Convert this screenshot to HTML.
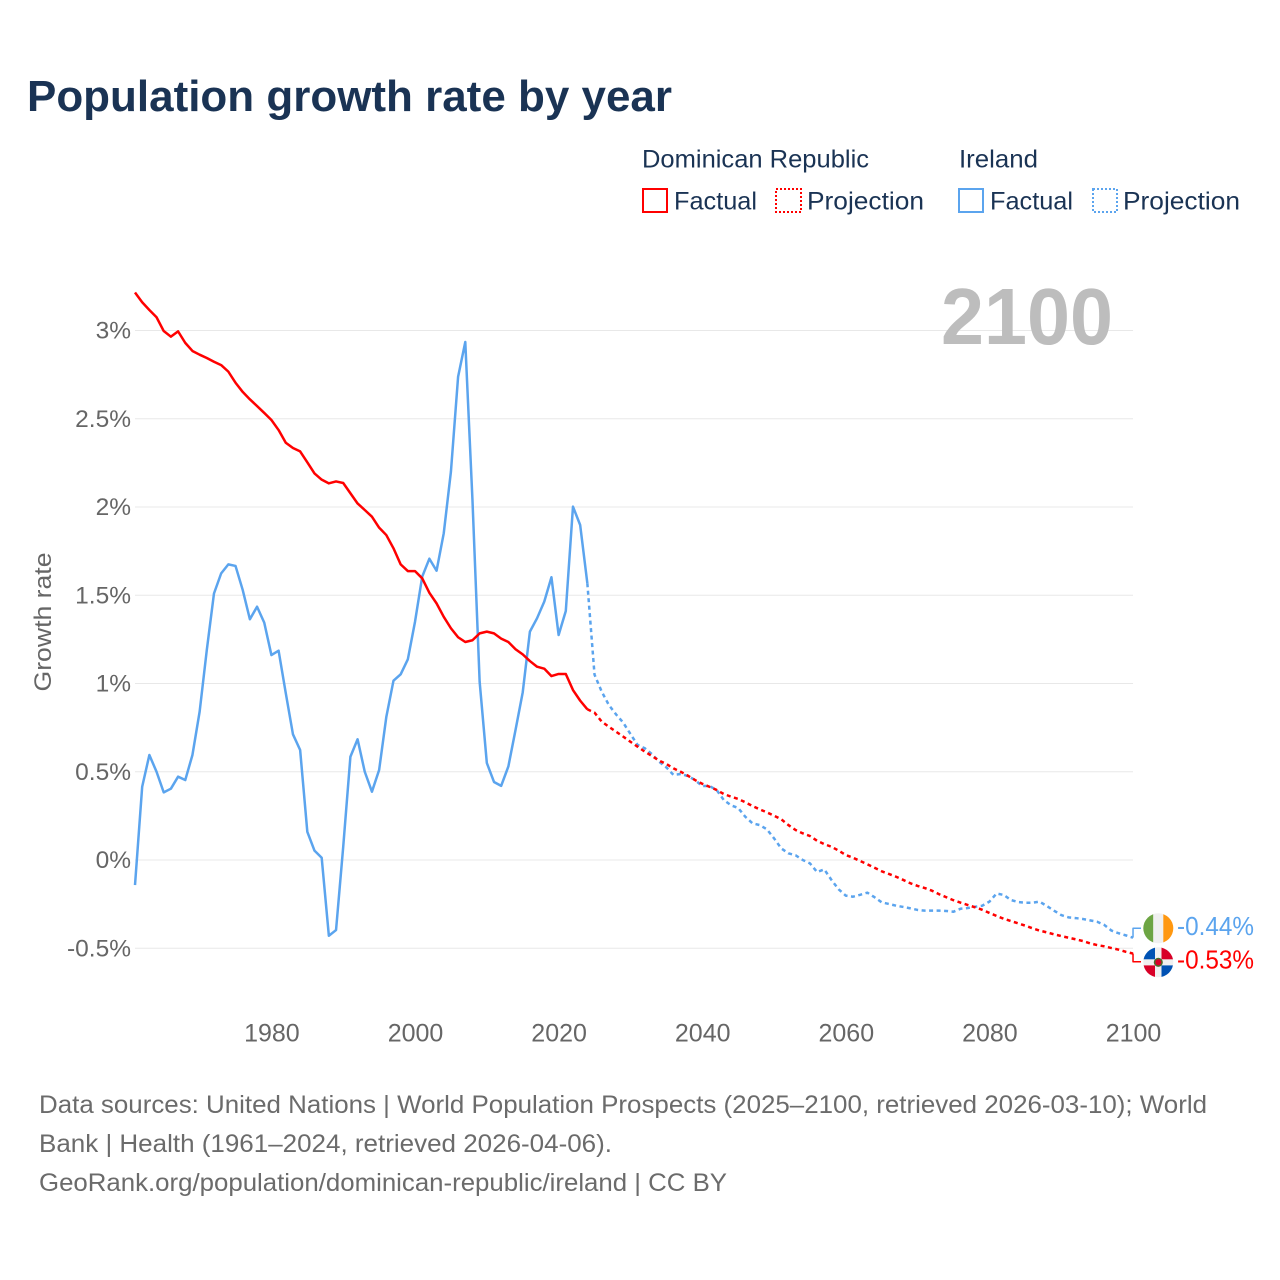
<!DOCTYPE html>
<html lang="en">
<head>
<meta charset="utf-8">
<title>Population growth rate by year</title>
<style>
html,body{margin:0;padding:0;background:#fff;width:1280px;height:1280px;overflow:hidden}
svg{display:block}
text{font-family:"Liberation Sans",sans-serif}
</style>
</head>
<body>
<svg id="chart" xmlns="http://www.w3.org/2000/svg" width="1280" height="1280" viewBox="0 0 1280 1280">
  <defs>
    <clipPath id="flag-clip-ie"><circle cx="1158.3" cy="928.3" r="15"/></clipPath>
    <clipPath id="flag-clip-do"><circle cx="1158.3" cy="962.3" r="15"/></clipPath>
  </defs>
  <rect x="0" y="0" width="1280" height="1280" fill="#fff"/>
  <text x="27" y="111" font-size="44" font-weight="700" fill="#1a3354" textLength="645" lengthAdjust="spacingAndGlyphs">Population growth rate by year</text>

  <g font-size="25" fill="#1a3354">
    <text x="642" y="167.5" textLength="227" lengthAdjust="spacingAndGlyphs">Dominican Republic</text>
    <text x="959" y="167.5" textLength="79" lengthAdjust="spacingAndGlyphs">Ireland</text>
    <rect x="643" y="189" width="24" height="23" fill="none" stroke="#ff0000" stroke-width="2"/>
    <text x="674" y="209.5" textLength="83" lengthAdjust="spacingAndGlyphs">Factual</text>
    <rect x="776" y="189" width="25" height="23" fill="none" stroke="#ff0000" stroke-width="2" stroke-dasharray="2,2"/>
    <text x="807" y="209.5" textLength="117" lengthAdjust="spacingAndGlyphs">Projection</text>
    <rect x="959" y="189" width="24" height="23" fill="none" stroke="#5ba4ee" stroke-width="2"/>
    <text x="990" y="209.5" textLength="83" lengthAdjust="spacingAndGlyphs">Factual</text>
    <rect x="1093" y="189" width="24" height="23" fill="none" stroke="#5ba4ee" stroke-width="2" stroke-dasharray="2,2"/>
    <text x="1123" y="209.5" textLength="117" lengthAdjust="spacingAndGlyphs">Projection</text>
  </g>

  <g id="grid"></g>
  <text x="941" y="344" font-size="80" font-weight="700" fill="#bdbdbd" textLength="172" lengthAdjust="spacingAndGlyphs">2100</text>
  <g id="y-ticks" font-size="24.5" fill="#666"></g>
  <g id="x-ticks" font-size="25" fill="#666"></g>
  <text transform="translate(51,622) rotate(-90)" text-anchor="middle" font-size="24" fill="#666" textLength="139" lengthAdjust="spacingAndGlyphs">Growth rate</text>
  <g id="series"></g>

  <g clip-path="url(#flag-clip-ie)">
    <rect x="1143" y="913" width="10.3" height="31" fill="#6da544"/>
    <rect x="1153.3" y="913" width="10" height="31" fill="#f0f0f0"/>
    <rect x="1163.3" y="913" width="10.3" height="31" fill="#ff9811"/>
  </g>
  <g clip-path="url(#flag-clip-do)">
    <rect x="1143" y="947" width="31" height="31" fill="#f0f0f0"/>
    <rect x="1143" y="947" width="12" height="12.3" fill="#0052b4"/>
    <rect x="1161.5" y="947" width="12" height="12.3" fill="#d80027"/>
    <rect x="1143" y="965.4" width="12" height="12.3" fill="#d80027"/>
    <rect x="1161.5" y="965.4" width="12" height="12.3" fill="#0052b4"/>
    <circle cx="1158.3" cy="962.3" r="3.8" fill="#d80027" stroke="#496e2d" stroke-width="1.5"/>
  </g>
  <g id="end-labels" font-size="26"></g>

  <g font-size="25" fill="#6b6b6b">
    <text x="39" y="1113" textLength="1168" lengthAdjust="spacingAndGlyphs">Data sources: United Nations | World Population Prospects (2025–2100, retrieved 2026-03-10); World</text>
    <text x="39" y="1152" textLength="573" lengthAdjust="spacingAndGlyphs">Bank | Health (1961–2024, retrieved 2026-04-06).</text>
    <text x="39" y="1191" textLength="688" lengthAdjust="spacingAndGlyphs">GeoRank.org/population/dominican-republic/ireland | CC BY</text>
  </g>
</svg>
<script>
const factualStartYear = 1961;
const projectionStartYear = 2025;
const yTickValues = [-0.5, 0, 0.5, 1, 1.5, 2, 2.5, 3];
const yTickLabels = ["-0.5%", "0%", "0.5%", "1%", "1.5%", "2%", "2.5%", "3%"];
const xTickYears = [1980, 2000, 2020, 2040, 2060, 2080, 2100];
const drFactual = [
  3.215,3.16,3.116,3.075,2.997,2.965,2.995,2.93,2.884,2.863,
  2.844,2.823,2.804,2.767,2.704,2.652,2.61,2.572,2.533,2.493,
  2.436,2.364,2.334,2.315,2.253,2.19,2.155,2.134,2.145,2.136,
  2.078,2.02,1.983,1.945,1.883,1.841,1.766,1.675,1.637,1.637,
  1.596,1.514,1.454,1.378,1.313,1.262,1.235,1.245,1.284,1.294,
  1.284,1.254,1.235,1.194,1.165,1.127,1.095,1.084,1.042,1.054,
  1.054,0.963,0.903,0.854
];
const drProjection = [
  0.835,0.784,0.755,0.727,0.699,0.67,0.642,0.614,0.589,0.563,
  0.544,0.519,0.5,0.478,0.453,0.432,0.415,0.397,0.374,0.359,
  0.346,0.327,0.306,0.287,0.27,0.251,0.231,0.198,0.17,0.151,
  0.136,0.109,0.09,0.075,0.053,0.028,0.013,-0.006,-0.024,-0.044,
  -0.064,-0.079,-0.095,-0.113,-0.132,-0.147,-0.159,-0.174,-0.194,-0.211,
  -0.228,-0.242,-0.255,-0.268,-0.282,-0.3,-0.317,-0.333,-0.346,-0.359,
  -0.372,-0.387,-0.4,-0.41,-0.421,-0.431,-0.44,-0.449,-0.459,-0.472,
  -0.482,-0.489,-0.499,-0.508,-0.52,-0.53
];
const ieFactual = [
  -0.142,0.415,0.595,0.5,0.383,0.404,0.472,0.453,0.595,0.84,
  1.19,1.51,1.624,1.675,1.666,1.53,1.364,1.435,1.345,1.161,
  1.186,0.945,0.712,0.623,0.16,0.053,0.013,-0.429,-0.397,0.075,
  0.585,0.684,0.5,0.387,0.51,0.81,1.016,1.052,1.137,1.35,
  1.605,1.707,1.639,1.851,2.2,2.738,2.935,2.04,1.01,0.55,
  0.442,0.42,0.53,0.737,0.95,1.294,1.37,1.464,1.602,1.275,
  1.411,2.002,1.898,1.568
];
const ieProjection = [
  1.05,0.954,0.878,0.825,0.778,0.714,0.652,0.633,0.6,0.557,
  0.525,0.482,0.487,0.476,0.453,0.419,0.419,0.397,0.34,0.31,
  0.295,0.245,0.208,0.198,0.174,0.123,0.066,0.038,0.027,0,
  -0.019,-0.068,-0.053,-0.113,-0.166,-0.202,-0.208,-0.197,-0.185,-0.211,
  -0.24,-0.249,-0.259,-0.266,-0.274,-0.283,-0.287,-0.287,-0.287,-0.289,
  -0.293,-0.276,-0.272,-0.265,-0.259,-0.236,-0.19,-0.198,-0.227,-0.238,
  -0.242,-0.242,-0.236,-0.261,-0.287,-0.312,-0.325,-0.329,-0.334,-0.342,
  -0.35,-0.368,-0.4,-0.415,-0.427,-0.44
];

const SVG_NS = "http://www.w3.org/2000/svg";
const RED = "#ff0000";
const BLUE = "#5ba4ee";
function xScale(year) { return 135 + (year - 1961) * 7.18; }
function yScale(v) { return 860 - v * 176.5; }

const gridGroup = document.getElementById("grid");
const yTickGroup = document.getElementById("y-ticks");
yTickValues.forEach(function (v, i) {
  const line = document.createElementNS(SVG_NS, "line");
  line.setAttribute("x1", xScale(1961));
  line.setAttribute("x2", xScale(2100));
  line.setAttribute("y1", yScale(v));
  line.setAttribute("y2", yScale(v));
  line.setAttribute("stroke", "#e8e8e8");
  line.setAttribute("stroke-width", "1");
  
  
  gridGroup.appendChild(line);
  const label = document.createElementNS(SVG_NS, "text");
  label.setAttribute("x", 131);
  label.setAttribute("y", yScale(v) + 8);
  label.setAttribute("text-anchor", "end");
  label.textContent = yTickLabels[i];
  
  
  yTickGroup.appendChild(label);
});

const xTickGroup = document.getElementById("x-ticks");
xTickYears.forEach(function (year) {
  const label = document.createElementNS(SVG_NS, "text");
  label.setAttribute("x", xScale(year) + 0.5);
  label.setAttribute("y", 1041.5);
  label.setAttribute("text-anchor", "middle");
  label.textContent = String(year);
  
  
  xTickGroup.appendChild(label);
});

function linePath(values, startYear, anchor) {
  const pts = values.map(function (v, i) {
    return xScale(startYear + i).toFixed(2) + " " + yScale(v).toFixed(2);
  });
  if (anchor) {
    pts.unshift(xScale(anchor.year).toFixed(2) + " " + yScale(anchor.value).toFixed(2));
  }
  return "M" + pts.join("L");
}

const seriesGroup = document.getElementById("series");
function addPath(d, color, dash, width) {
  const p = document.createElementNS(SVG_NS, "path");
  p.setAttribute("d", d);
  p.setAttribute("fill", "none");
  p.setAttribute("stroke", color);
  p.setAttribute("stroke-width", width);
  p.setAttribute("stroke-linejoin", "round");
  if (dash) p.setAttribute("stroke-dasharray", dash);
  seriesGroup.appendChild(p);
  return p;
}

const ieFactualLine = addPath(linePath(ieFactual, factualStartYear), BLUE, null, 2.5);



const ieProjectionLine = addPath(linePath(ieProjection, projectionStartYear, { year: 2024, value: ieFactual[ieFactual.length - 1] }), BLUE, "4,3.5", 2.5);



const drFactualLine = addPath(linePath(drFactual, factualStartYear), RED, null, 2.5);



const drProjectionLine = addPath(linePath(drProjection, projectionStartYear, { year: 2024, value: drFactual[drFactual.length - 1] }), RED, "4,3.5", 2.5);



const ieEnd = ieProjection[ieProjection.length - 1];
const drEnd = drProjection[drProjection.length - 1];
const ieConnector = addPath("M" + xScale(2100) + " " + yScale(ieEnd) + "L" + xScale(2100) + " 928.3L1141 928.3", BLUE, null, 1.5);


const drConnector = addPath("M" + xScale(2100) + " " + yScale(drEnd) + "L" + xScale(2100) + " 961.7L1141 961.7", RED, null, 1.5);



const endGroup = document.getElementById("end-labels");
const ieLabel = document.createElementNS(SVG_NS, "text");
ieLabel.setAttribute("x", 1177);
ieLabel.setAttribute("y", 935);
ieLabel.setAttribute("fill", BLUE);
ieLabel.setAttribute("textLength", "77");
ieLabel.setAttribute("lengthAdjust", "spacingAndGlyphs");
ieLabel.textContent = ieEnd.toFixed(2) + "%";


endGroup.appendChild(ieLabel);
const drLabel = document.createElementNS(SVG_NS, "text");
drLabel.setAttribute("x", 1177);
drLabel.setAttribute("y", 968.5);
drLabel.setAttribute("fill", RED);
drLabel.setAttribute("textLength", "77");
drLabel.setAttribute("lengthAdjust", "spacingAndGlyphs");
drLabel.textContent = drEnd.toFixed(2) + "%";


endGroup.appendChild(drLabel);
</script>
</body>
</html>
